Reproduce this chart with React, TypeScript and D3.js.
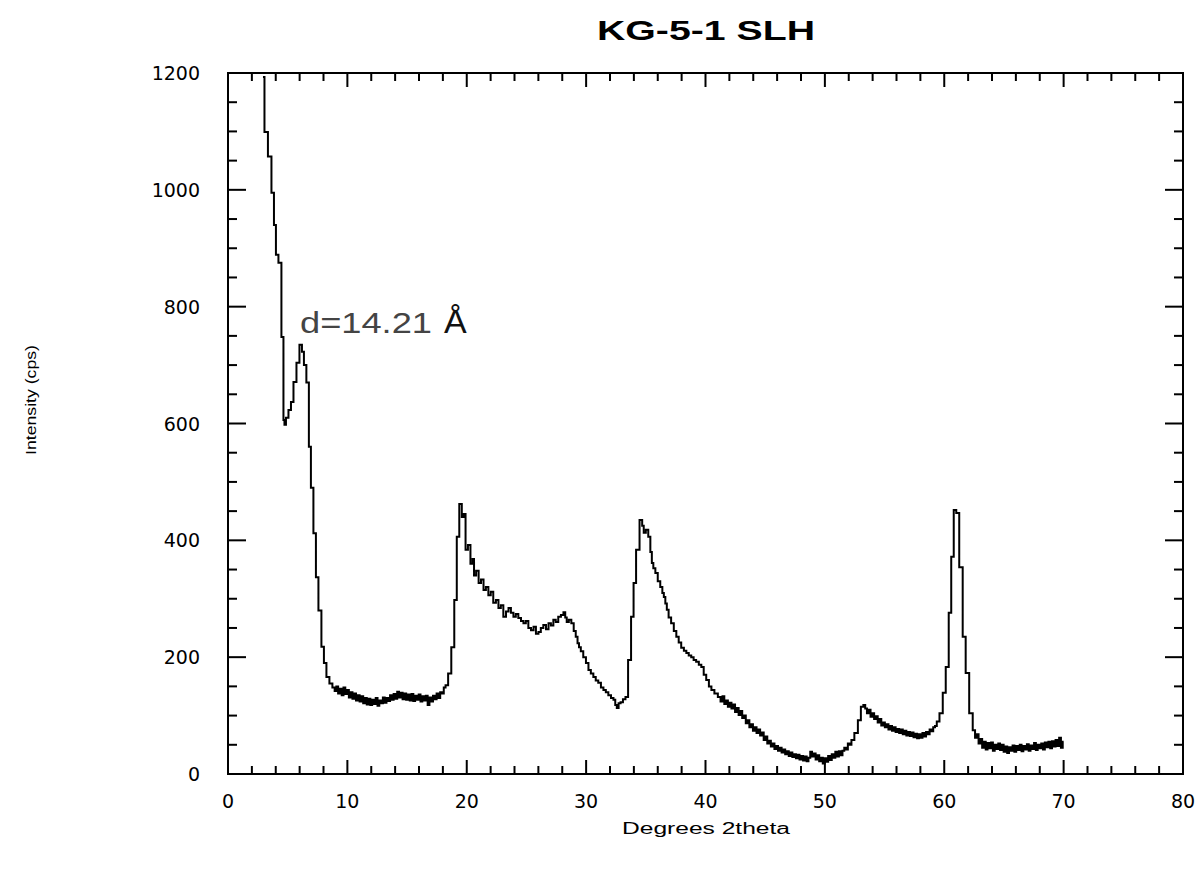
import React, { useEffect, useRef } from 'react';
import * as d3 from 'd3';

// diffraction scan (degrees 2theta / counts per second)
const twoTheta = [
  2.93, 3.18, 3.51, 3.77, 3.93, 4.1, 4.35, 4.6, 4.69, 4.77, 4.94, 5.19, 5.36, 5.61, 5.86, 6.11, 6.28, 6.44, 6.69, 6.86,
  7.03, 7.28, 7.45, 7.7, 7.95, 8.12, 8.37, 8.62, 8.87,
  9.0, 9.15, 9.3, 9.45, 9.6, 9.75, 9.9, 10.05, 10.2, 10.35, 10.5, 10.65, 10.8, 10.95, 11.1, 11.25, 11.4, 11.55, 11.7, 11.85,
  12.0, 12.15, 12.3, 12.45, 12.6, 12.75, 12.9, 13.05, 13.2, 13.35, 13.5, 13.65, 13.8, 13.95, 14.1, 14.25, 14.4, 14.55, 14.7, 14.85,
  15.0, 15.15, 15.3, 15.45, 15.6, 15.75, 15.9, 16.05, 16.2, 16.35, 16.5, 16.65, 16.8, 16.95, 17.1, 17.25, 17.4, 17.55, 17.7, 17.85,
  18.0, 18.15, 18.3, 18.58, 18.83, 19.08, 19.25, 19.5, 19.67, 19.8,
  20.0, 20.2, 20.42, 20.55, 20.67, 20.9, 21.09, 21.3, 21.51, 21.7, 21.92, 22.1, 22.34, 22.55, 22.76, 22.95, 23.18, 23.4, 23.6, 23.8,
  24.02, 24.2, 24.44, 24.65, 24.85, 25.05, 25.27, 25.5, 25.69, 25.9, 26.11, 26.3, 26.53, 26.75, 26.95, 27.15, 27.36, 27.55, 27.78, 28.0,
  28.2, 28.3, 28.45, 28.65, 28.87, 29.05, 29.21, 29.35, 29.46, 29.65, 29.87, 30.1, 30.29, 30.5, 30.71, 30.9, 31.13, 31.35, 31.55, 31.75,
  31.97, 32.2, 32.38, 32.5, 32.64, 32.8, 32.97, 33.2, 33.39, 33.64, 33.89, 34.06, 34.31, 34.64, 34.75, 34.9, 35.1, 35.31, 35.45, 35.56,
  35.7, 35.9, 36.1, 36.32, 36.45, 36.57, 36.7, 36.82, 37.0, 37.24, 37.45, 37.66, 37.85, 38.08, 38.3, 38.49, 38.7, 38.91, 39.1, 39.33,
  39.55, 39.75, 39.95, 40.17, 40.4, 40.59, 40.9,
  41.17, 41.35, 41.5, 41.65, 41.8, 41.95, 42.1, 42.25, 42.4, 42.55, 42.7, 42.85, 43.0, 43.15, 43.3, 43.45, 43.6, 43.75, 43.9, 44.05,
  44.2, 44.35, 44.5, 44.65, 44.8, 44.95, 45.1, 45.25, 45.4, 45.55, 45.7, 45.85, 46.0, 46.15, 46.3, 46.45, 46.6, 46.75, 46.9, 47.05,
  47.2, 47.35, 47.5, 47.65, 47.8, 47.95, 48.1, 48.25, 48.4, 48.55, 48.7, 48.85, 49.0, 49.15, 49.3, 49.45, 49.6, 49.75, 49.9, 50.05,
  50.2, 50.35, 50.5, 50.65, 50.8, 50.95, 51.1, 51.25, 51.4, 51.55, 51.7, 51.85, 52.0, 52.15, 52.3, 52.64, 52.89, 53.14,
  53.31, 53.45, 53.6, 53.75, 53.9, 54.05, 54.2, 54.35, 54.5, 54.65, 54.8, 54.95, 55.1, 55.25, 55.4, 55.55, 55.7, 55.85, 56.0, 56.15,
  56.3, 56.45, 56.6, 56.75, 56.9, 57.05, 57.2, 57.35, 57.5, 57.65, 57.8, 57.95, 58.1, 58.25, 58.4, 58.55, 58.7, 58.85, 59.0, 59.15,
  59.3, 59.45, 59.75, 60.0, 60.25, 60.5, 60.67, 60.92, 61.09, 61.42, 61.67, 61.92, 62.26,
  62.51, 62.65, 62.8, 62.95, 63.1, 63.25, 63.4, 63.55, 63.7, 63.85, 64.0, 64.15, 64.3, 64.45, 64.6, 64.75, 64.9, 65.05, 65.2, 65.35,
  65.5, 65.65, 65.8, 65.95, 66.1, 66.25, 66.4, 66.55, 66.7, 66.85, 67.0, 67.15, 67.3, 67.45, 67.6, 67.75, 67.9, 68.05, 68.2, 68.35,
  68.5, 68.65, 68.8, 68.95, 69.1, 69.25, 69.4, 69.55, 69.7, 69.85, 70.0,
];
const intensity = [
  1193, 1099, 1057, 995, 940, 889, 875, 748, 606, 598, 610, 623, 637, 671, 704, 735, 723, 700, 670, 560,
  490, 412, 337, 280, 218, 190, 166, 155, 148,
  142, 150, 138, 146, 135, 148, 137, 144, 131, 140, 129, 138, 126, 135, 124, 133, 121, 130, 119, 129,
  118, 127, 120, 130, 117, 126, 121, 131, 122, 130, 125, 135, 127, 137, 129, 141, 131, 139, 128, 138,
  127, 136, 126, 137, 125, 134, 127, 136, 124, 133, 126, 134, 118, 131, 124, 134, 128, 138, 130, 140,
  138, 148, 152, 172, 217, 298, 406, 462, 440, 445,
  384, 392, 360, 368, 340, 348, 327, 333, 315, 320, 306, 312, 293, 298, 284, 289, 269, 278, 284, 276,
  269, 274, 267, 262, 258, 262, 250, 246, 252, 240, 243, 250, 255, 248, 258, 254, 264, 260, 269, 272,
  277, 268, 260, 264, 258, 245, 235, 224, 217, 210, 200, 190, 178, 172, 166, 160, 156, 148, 144, 140,
  135, 130, 127, 118, 113, 121, 123, 128, 132, 195, 269, 327, 384, 435, 425, 413, 418, 406, 380, 361,
  352, 344, 330, 320, 310, 303, 292, 281, 268, 258, 245, 235, 225, 216, 211, 207, 203, 200, 195, 192,
  187, 183, 170, 161, 150, 144, 138,
  132, 124, 133, 120, 126, 115, 122, 112, 119, 106, 113, 101, 108, 96, 100, 87, 92, 80, 85, 74,
  80, 70, 76, 66, 71, 58, 64, 52, 57, 47, 52, 43, 48, 40, 45, 37, 42, 34, 39, 31,
  37, 29, 34, 27, 33, 25, 31, 23, 30, 22, 28, 38, 30, 35, 25, 32, 22, 28, 18, 27,
  21, 31, 24, 34, 28, 38, 30, 39, 32, 40, 45, 42, 52, 50, 58, 70, 92, 115,
  118, 112, 104, 110, 98, 104, 94, 99, 88, 94, 83, 88, 80, 85, 76, 82, 74, 80, 72, 77,
  70, 76, 68, 74, 66, 72, 65, 71, 63, 69, 61, 68, 62, 70, 64, 72, 68, 76, 73, 80,
  82, 90, 104, 139, 183, 276, 372, 452, 447, 354, 235, 173, 104,
  75, 62, 68, 52, 60, 45, 55, 42, 53, 44, 54, 40, 50, 43, 52, 41, 50, 38, 47, 36,
  46, 40, 49, 38, 48, 41, 50, 39, 48, 42, 51, 40, 49, 43, 53, 41, 50, 44, 52, 42,
  54, 46, 55, 44, 56, 47, 58, 48, 62, 45, 55,
];

const xMajor = [0, 10, 20, 30, 40, 50, 60, 70, 80];
const yMajor = [0, 200, 400, 600, 800, 1000, 1200];

const W = 1203;
const H = 893;
const left = 228, right = 1183, top = 73, bottom = 774;
const font = '"DejaVu Sans", Arial, sans-serif';
const sans = 'Arial, "Liberation Sans", sans-serif';

export default function App() {
  const ref = useRef<SVGSVGElement>(null);

  useEffect(() => {
    const svg = d3.select(ref.current);
    svg.selectAll('*').remove();

    const x = d3.scaleLinear().domain([0, 80]).range([left, right]);
    const y = d3.scaleLinear().domain([0, 1200]).range([bottom, top]);

    // frame
    svg.append('rect')
      .attr('x', left).attr('y', top)
      .attr('width', right - left).attr('height', bottom - top)
      .attr('fill', 'none').attr('stroke', '#000').attr('stroke-width', 2);

    // ticks, inward, on all four sides
    const ticks = svg.append('g').attr('stroke', '#000').attr('stroke-width', 2);
    d3.range(0, 81, 2).forEach((v) => {
      const len = v % 10 === 0 ? 14 : 8;
      ticks.append('line').attr('x1', x(v)).attr('x2', x(v)).attr('y1', bottom).attr('y2', bottom - len);
      ticks.append('line').attr('x1', x(v)).attr('x2', x(v)).attr('y1', top).attr('y2', top + len);
    });
    d3.range(0, 1201, 50).forEach((v) => {
      const len = v % 200 === 0 ? 18 : 9;
      ticks.append('line').attr('x1', left).attr('x2', left + len).attr('y1', y(v)).attr('y2', y(v));
      ticks.append('line').attr('x1', right).attr('x2', right - len).attr('y1', y(v)).attr('y2', y(v));
    });

    // tick labels
    svg.append('g').selectAll('text').data(xMajor).join('text')
      .attr('x', (d) => x(d)).attr('y', 808)
      .attr('text-anchor', 'middle')
      .style('font-family', font).style('font-size', '19px')
      .text((d) => d);
    svg.append('g').selectAll('text').data(yMajor).join('text')
      .attr('x', 200).attr('y', (d) => y(d) + 7)
      .attr('text-anchor', 'end')
      .style('font-family', font).style('font-size', '19px')
      .text((d) => d);

    // trace
    const pts = twoTheta.map((t, i) => [t, intensity[i]] as [number, number]);
    const line = d3.line<[number, number]>()
      .x((d) => x(d[0])).y((d) => y(d[1]))
      .curve(d3.curveStep);
    svg.append('path')
      .attr('d', line(pts))
      .attr('fill', 'none').attr('stroke', '#000').attr('stroke-width', 2);

    // titles
    svg.append('text')
      .attr('x', 706).attr('y', 40).attr('text-anchor', 'middle')
      .attr('textLength', 218).attr('lengthAdjust', 'spacingAndGlyphs')
      .style('font-family', sans).style('font-weight', 'bold').style('font-size', '27px')
      .text('KG-5-1 SLH');
    svg.append('text')
      .attr('x', 706).attr('y', 834).attr('text-anchor', 'middle')
      .attr('textLength', 168).attr('lengthAdjust', 'spacingAndGlyphs')
      .style('font-family', sans).style('font-size', '16px')
      .text('Degrees 2theta');
    svg.append('text')
      .attr('transform', 'translate(36,400) rotate(-90)').attr('text-anchor', 'middle')
      .attr('textLength', 110).attr('lengthAdjust', 'spacingAndGlyphs')
      .style('font-family', sans).style('font-size', '15px')
      .text('Intensity (cps)');

    // peak annotation
    svg.append('text')
      .attr('x', 300).attr('y', 333)
      .attr('textLength', 132).attr('lengthAdjust', 'spacingAndGlyphs')
      .style('font-family', sans).style('font-size', '30px').attr('fill', '#444')
      .text('d=14.21');
    svg.append('text')
      .attr('x', 444).attr('y', 333)
      .style('font-family', sans).style('font-size', '34px').attr('fill', '#111')
      .text('Å');
  }, []);

  return (
    <svg ref={ref} width={W} height={H}
      style={{ position: 'absolute', left: 0, top: 0, background: '#fff' }} />
  );
}
